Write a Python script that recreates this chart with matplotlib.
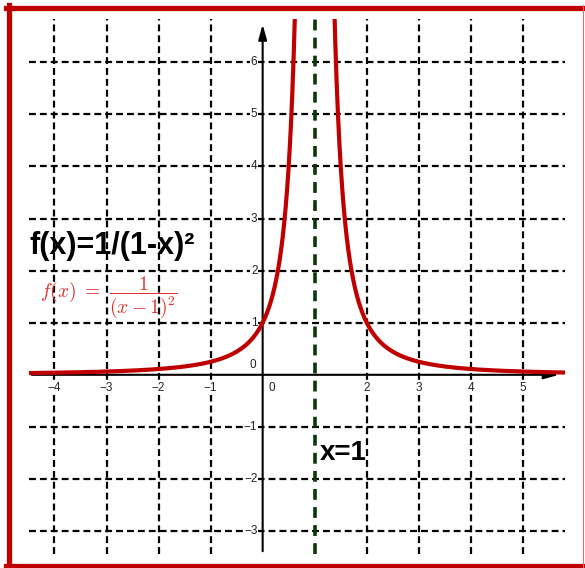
import numpy as np
import matplotlib.pyplot as plt
from matplotlib.lines import Line2D

plt.rcParams['font.family'] = ['Liberation Sans', 'DejaVu Sans']
plt.rcParams['mathtext.fontset'] = 'cm'

# ticks / grid values
x_ticks = [-4, -3, -2, -1, 0, 1, 2, 3, 4, 5]
y_ticks = [-3, -2, -1, 0, 1, 2, 3, 4, 5, 6]
asymptote_x = 1
x_range = (-4.49, 5.81)
y_range = (-3.44, 6.83)

title_txt = 'f(x)=1/(1-x)²'
formula_txt = r'$f(x)\ =\ \dfrac{1}{(x-1)^2}$'
asym_txt = 'x=1'

W, H = 585, 568
fig = plt.figure(figsize=(W / 100, H / 100), dpi=100)
ax = fig.add_axes([29 / W, 1 - 554 / H, (565 - 29) / W, (554 - 19) / H])
ax.set_xlim(*x_range)
ax.set_ylim(*y_range)
ax.axis('off')

# dashed grid
for xv in x_ticks:
    if xv in (0, asymptote_x):
        continue
    ax.axvline(xv, color='black', lw=1.6, dashes=(3.1, 1.8), zorder=1)
for yv in y_ticks:
    if yv == 0:
        continue
    ax.axhline(yv, color='black', lw=1.6, dashes=(3.1, 1.8), zorder=1)

# axes with arrows
ax.annotate('', xy=(x_range[1] - 0.06, 0), xytext=(x_range[0], 0),
            arrowprops=dict(arrowstyle='-|>,head_length=0.9,head_width=0.25',
                            color='black', lw=1.5), zorder=3)
ax.annotate('', xy=(0, y_range[1] - 0.05), xytext=(0, y_range[0]),
            arrowprops=dict(arrowstyle='-|>,head_length=0.9,head_width=0.25',
                            color='black', lw=1.5), zorder=3)

# tick labels
lbl_box = dict(facecolor='white', edgecolor='none', pad=0.6)
for xv in x_ticks:
    if xv in (0, asymptote_x):
        continue
    ax.text(xv, -0.14, '\u2212%d' % -xv if xv < 0 else str(xv), ha='center', va='top',
            fontsize=8.5, color='#222222', zorder=4, bbox=lbl_box)
for yv in y_ticks:
    if yv == 0:
        continue
    ax.text(-0.1, yv, '\u2212%d' % -yv if yv < 0 else str(yv), ha='right', va='center',
            fontsize=8.5, color='#222222', zorder=4, bbox=lbl_box)
ax.text(-0.12, 0.07, '0', ha='right', va='bottom', fontsize=8.5, color='#222222')
ax.text(0.12, -0.14, '0', ha='left', va='top', fontsize=8.5, color='#222222')

# vertical asymptote
ax.axvline(asymptote_x, color='#0c360c', lw=2.6, dashes=(3.0, 2.0), zorder=2)

# the function
xs_l = np.linspace(x_range[0], asymptote_x - 0.001, 2000)
xs_r = np.linspace(asymptote_x + 0.001, x_range[1], 2000)
for xs in (xs_l, xs_r):
    ax.plot(xs, 1 / (xs - 1) ** 2, color='#c00000', lw=3, zorder=5,
            solid_capstyle='butt')

# labels
fig.text(29 / W, 1 - 246 / H, title_txt, fontsize=22, fontweight='bold',
         ha='left', va='center', color='black', zorder=6)
fig.text(40 / W, 1 - 297 / H, formula_txt, fontsize=14, ha='left', va='center',
         color='#e03030', zorder=6)
ax.text(asymptote_x + 0.1, -1.5, asym_txt, fontsize=20, fontweight='bold',
        ha='left', va='center', color='black', zorder=6)

# red frame
frame = dict(color='#c00000', transform=fig.transFigure)
fig.add_artist(Line2D([8.5 / W, 8.5 / W], [1 - 5 / H, 1 - 568 / H], lw=3.8, **frame))
fig.add_artist(Line2D([6 / W, 585 / W], [1 - 7.5 / H, 1 - 7.5 / H], lw=3.8, **frame))
fig.add_artist(Line2D([6 / W, 585 / W], [1 - 565.5 / H, 1 - 565.5 / H], lw=3.8, **frame))
fig.add_artist(Line2D([583 / W, 583 / W], [1 - 5 / H, 1 - 568 / H], lw=0.8,
                      color='#e07070', transform=fig.transFigure))

fig.savefig('out.png', dpi=100)
